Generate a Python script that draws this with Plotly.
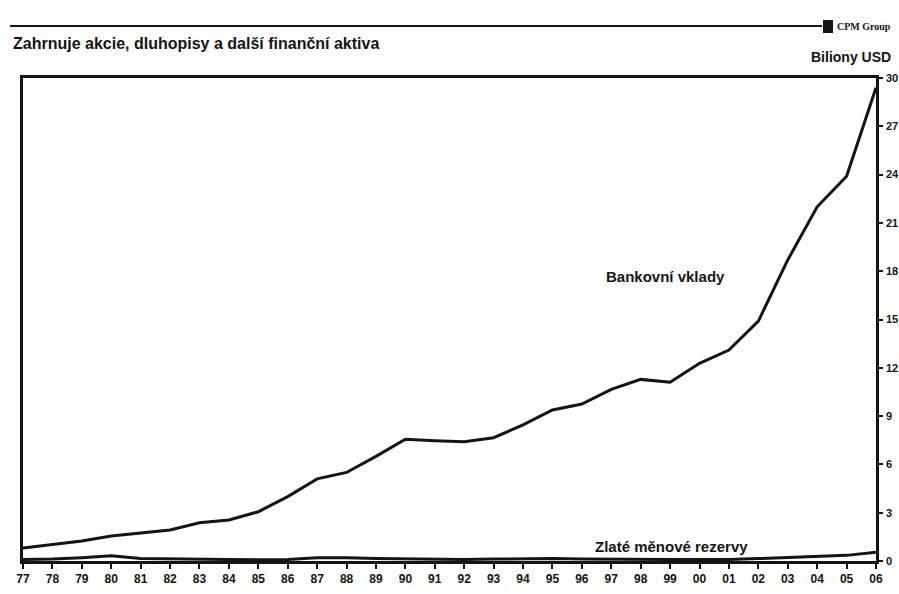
import plotly.graph_objects as go

years = list(range(1977, 2007))
year_labels = [str(y)[-2:] for y in years]

bank_deposits = [0.8, 1.0, 1.24, 1.55, 1.76, 1.93, 2.38, 2.55, 3.06, 4.0,
                 5.1, 5.5, 6.5, 7.56, 7.47, 7.41, 7.66, 8.45, 9.38, 9.75,
                 10.66, 11.28, 11.1, 12.28, 13.1, 14.9, 18.7, 22.0, 23.9, 29.4]

gold_reserves = [0.1, 0.12, 0.2, 0.32, 0.15, 0.12, 0.12, 0.1, 0.08, 0.1,
                 0.2, 0.2, 0.15, 0.12, 0.1, 0.1, 0.12, 0.15, 0.15, 0.12,
                 0.1, 0.1, 0.1, 0.1, 0.1, 0.15, 0.22, 0.3, 0.35, 0.55]

y_ticks = [0, 3, 6, 9, 12, 15, 18, 21, 24, 27, 30]
y_tick_labels = [str(v) for v in y_ticks]

FONT = "Liberation Sans"
INK = "#141414"

fig = go.Figure()
fig.add_trace(go.Scatter(x=years, y=bank_deposits, mode="lines",
                         line=dict(color=INK, width=3), name="Bankovní vklady",
                         showlegend=False))
fig.add_trace(go.Scatter(x=years, y=gold_reserves, mode="lines",
                         line=dict(color=INK, width=3), name="Zlaté měnové rezervy",
                         showlegend=False))

W, H = 899, 594
L, R, T, B = 23, 876, 78, 561


def px(x):
    return (x - L) / (R - L)


def py(y):
    return (B - y) / (B - T)


fig.update_layout(
    width=W, height=H,
    margin=dict(l=L, r=W - R, t=T, b=H - B, autoexpand=False),
    paper_bgcolor="white", plot_bgcolor="white",
    font=dict(family=FONT, color=INK),
    xaxis=dict(range=[1977, 2006], tickvals=years,
               ticktext=["<b>%s</b>" % t for t in year_labels],
               automargin=False,
               showgrid=False, zeroline=False, showline=True, linecolor=INK,
               linewidth=2.5, mirror=True, ticks="outside", ticklen=5,
               tickwidth=2, tickcolor=INK,
               tickfont=dict(family=FONT, size=12, color=INK)),
    yaxis=dict(range=[0, 30], tickvals=y_ticks,
               ticktext=["<b>%s</b>" % t for t in y_tick_labels],
               automargin=False,
               side="right", showgrid=False, zeroline=False, showline=True,
               linecolor=INK, linewidth=2.5, mirror=True, ticks="outside",
               ticklen=4, tickwidth=2, tickcolor=INK, ticklabelstandoff=1,
               tickfont=dict(family=FONT, size=11, color=INK)),
    shapes=[
        dict(type="line", xref="paper", yref="paper", x0=px(10), x1=px(822),
             y0=py(26), y1=py(26), line=dict(color=INK, width=2)),
        dict(type="rect", xref="paper", yref="paper", x0=px(823), x1=px(833),
             y0=py(33), y1=py(20), fillcolor=INK, line=dict(width=0)),
    ],
    annotations=[
        dict(text="<b>Zahrnuje akcie, dluhopisy a další finanční aktiva</b>",
             xref="paper", yref="paper", x=px(11), y=py(44), xanchor="left",
             yanchor="middle", showarrow=False,
             font=dict(family=FONT, size=16, color=INK)),
        dict(text="<b>CPM Group</b>", xref="paper", yref="paper", x=px(835), y=py(26),
             xanchor="left", yanchor="middle", showarrow=False,
             font=dict(family="Liberation Serif", size=10, color=INK)),
        dict(text="<b>Biliony USD</b>", xref="paper", yref="paper", x=px(893),
             y=py(57), xanchor="right", yanchor="middle", showarrow=False,
             font=dict(family=FONT, size=14, color=INK)),
        dict(text="<b>Bankovní vklady</b>", x=1998.83, y=17.7, xref="x", yref="y",
             showarrow=False, font=dict(family=FONT, size=15, color=INK)),
        dict(text="<b>Zlaté měnové rezervy</b>", x=1999.05, y=0.93, xref="x", yref="y",
             showarrow=False, font=dict(family=FONT, size=15, color=INK)),
    ],
)

fig.write_html("out.html", config={"displayModeBar": False},
               post_script="document.body.style.margin='0';"
                           "document.body.style.overflow='hidden';")
